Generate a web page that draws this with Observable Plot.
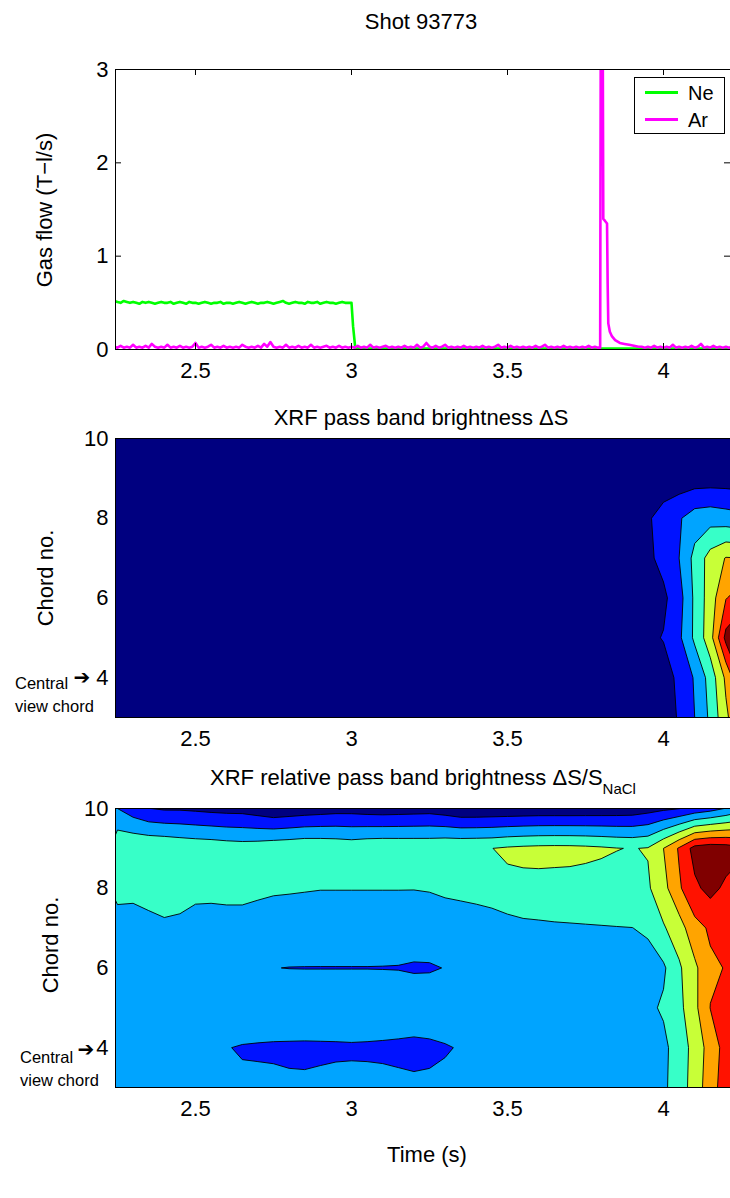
<!DOCTYPE html>
<html><head><meta charset="utf-8">
<script src="https://cdn.jsdelivr.net/npm/d3@7"></script>
<script src="https://cdn.jsdelivr.net/npm/@observablehq/plot@0.6"></script>
<style>
html,body{margin:0;padding:0;background:#fff;overflow:hidden;}
#page{position:relative;width:730px;height:1198px;font-family:"Liberation Sans",Arial,Helvetica,sans-serif;color:#000;overflow:hidden;}
.abs{position:absolute;white-space:nowrap;line-height:1;z-index:5;}
svg{overflow:visible;}
</style></head><body><div id="page"></div>
<script>
// ---------- axes / ticks ----------
const xDomain = [2.2436, 4.2147];
const xTicks = [2.5, 3, 3.5, 4];
const flowDomain = [0, 3];
const flowTicks = [0, 1, 2, 3];
const chordDomain = [3, 10];
const chordTicks = [4, 6, 8, 10];

// ---------- gas flow (top panel) ----------
const neStart = 2.24, arStart = 2.24, flowStep = 0.01;
const neFlow = [0.52,0.51,0.50,0.52,0.51,0.50,0.51,0.50,0.49,0.51, 0.50,0.51,0.50,0.49,0.50,0.51,0.50,0.50,0.51,0.49,
  0.50,0.51,0.50,0.49,0.51,0.50,0.50,0.49,0.50,0.51, 0.50,0.49,0.50,0.50,0.51,0.49,0.50,0.50,0.49,0.50,
  0.51,0.50,0.49,0.50,0.51,0.50,0.49,0.50,0.50,0.51, 0.50,0.49,0.50,0.51,0.52,0.50,0.49,0.50,0.51,0.50,
  0.50,0.49,0.51,0.50,0.50,0.51,0.49,0.50,0.51,0.50, 0.50,0.49,0.50,0.51,0.50,0.50,0.50];
const neOffTime = [3.005, 3.012, 3.05, 3.5, 3.8, 3.85, 4.22];
const neOffFlow = [0.25, 0.02, 0.01, 0.01, 0.01, 0.01, 0.01];
const arBase = [0.03,0.02,0.04,0.02,0.03,0.02,0.05,0.02,0.03,0.02, 0.04,0.02,0.06,0.03,0.02,0.03,0.02,0.05,0.02,0.03,
  0.02,0.04,0.02,0.03,0.02,0.03,0.07,0.02,0.03,0.02, 0.03,0.05,0.02,0.03,0.02,0.04,0.02,0.03,0.02,0.03,
  0.02,0.05,0.03,0.02,0.03,0.02,0.04,0.02,0.06,0.03, 0.08,0.03,0.02,0.03,0.02,0.05,0.02,0.03,0.02,0.04,
  0.02,0.03,0.02,0.05,0.02,0.03,0.02,0.03,0.04,0.02, 0.03,0.02,0.04,0.02,0.03,0.02,0.03,0.02,0.04,0.02,
  0.03,0.02,0.05,0.02,0.03,0.02,0.03,0.04,0.02,0.03, 0.02,0.03,0.02,0.04,0.02,0.03,0.02,0.05,0.02,0.03,
  0.07,0.03,0.02,0.04,0.02,0.03,0.05,0.02,0.03,0.02, 0.03,0.02,0.04,0.02,0.03,0.02,0.03,0.02,0.04,0.02,
  0.03,0.02,0.03,0.05,0.02,0.03,0.02,0.04,0.02,0.03, 0.02,0.03,0.02,0.03,0.02,0.04,0.02,0.03,0.05,0.02,
  0.03,0.02,0.03,0.02,0.04,0.02,0.03,0.02,0.03,0.02, 0.03,0.02,0.04,0.02,0.03,0.02];
const arPulseTime = [3.797,3.799,3.805,3.807,3.812,3.819,3.821,3.823,3.828,3.835,3.845,3.860,3.875,3.890,3.905,3.920];
const arPulseFlow = [0.02,3.6,3.6,1.40,1.38,1.35,0.70,0.28,0.19,0.14,0.10,0.07,0.06,0.05,0.04,0.03];
const arTailStart = 3.93;
const arTail = [0.03,0.02,0.03,0.02,0.04,0.02,0.03,0.02,0.03,0.02, 0.05,0.02,0.03,0.02,0.03,0.02,0.04,0.02,0.03,0.06,
  0.02,0.03,0.02,0.04,0.02,0.03,0.02,0.03,0.02,0.03];

// ---------- contour grids: time samples x chord rows (3..10) ----------
const gridStart = 2.25, gridStep = 0.05, gridCount = 41;
const chords = [3, 4, 5, 6, 7, 8, 9, 10];
const jetColors = ["#000080","#0012FF","#00A4FF","#37FFC8","#C8FF37","#FFA400","#FF1200","#800000"];
const levels = [1, 2, 3, 4, 5, 6, 7];

// XRF pass band brightness dS (arbitrary level units); quiet until 3.85 s
const dSQuiet = [0,0,0,0,0,0,0,0,0,0,0,0,0,0,0,0,0,0,0,0,0,0,0,0,0,0,0,0,0,0,0,0,0];
const dS3  = [...dSQuiet, 0.1,0.25,0.5,1.1,2.0,3.2,4.8,6.0];
const dS4  = [...dSQuiet, 0.1,0.3,0.6,1.2,2.1,3.4,5.2,7.2];
const dS5  = [...dSQuiet, 0.3,0.8,1.05,1.8,3.2,4.6,7.3,8.0];
const dS6  = [...dSQuiet, 0.2,0.4,0.8,1.6,3.2,4.5,5.95,6.5];
const dS7  = [...dSQuiet, 0.3,0.8,1.3,2.0,3.3,4.4,5.05,5.0];
const dS8  = [...dSQuiet, 0.3,0.85,1.5,1.9,2.48,2.6,2.45,2.3];
const dS9  = [...dSQuiet, 0.05,0.1,0.25,0.4,0.48,0.5,0.5,0.45];
const dS10 = [...dSQuiet, 0,0,0.05,0.1,0.15,0.2,0.2,0.2];

// XRF relative pass band brightness dS/S_NaCl (level units)
const rel3  = [2.40,2.40,2.38,2.36,2.34,2.32,2.30,2.20,2.10,2.126, 2.13,2.088,2.083,2.116,2.156,2.152,2.163,2.165,2.141,2.123,
  2.13,2.168,2.25,2.30,2.32,2.34,2.36,2.38,2.40,2.40, 2.40,2.40,2.40,2.50,2.60,2.80,3.57,4.37,5.63,6.43, 6.70];
const rel4  = [2.30,2.25,2.20,2.15,2.10,2.07,2.04,2.02,1.957,1.932, 1.912,1.905,1.898,1.905,1.912,1.925,1.912,1.89,1.859,1.815,
  1.859,1.944,2.05,2.20,2.30,2.40,2.40,2.40,2.40,2.40, 2.40,2.40,2.40,2.50,2.60,2.75,3.53,4.31,5.46,6.36, 6.60];
const rel5  = [2.50,2.50,2.50,2.50,2.50,2.50,2.50,2.50,2.50,2.50, 2.50,2.50,2.50,2.50,2.50,2.50,2.50,2.50,2.50,2.50,
  2.50,2.50,2.50,2.50,2.50,2.50,2.50,2.50,2.50,2.50, 2.50,2.50,2.50,2.60,2.80,3.13,3.71,4.75,6.02,6.50, 6.70];
const rel6  = [2.40,2.40,2.35,2.35,2.30,2.25,2.20,2.15,2.10,2.05, 2.01,1.99,1.985,1.985,1.985,1.985,1.985,1.98,1.97,1.92,
  1.93,2.02,2.15,2.25,2.30,2.35,2.35,2.35,2.35,2.35, 2.35,2.35,2.35,2.45,2.60,2.85,3.85,4.79,5.84,6.04, 6.50];
const rel7  = [2.28,2.18,2.61,2.82,2.72,2.25,2.18,2.31,2.31,2.30, 2.36,2.43,2.46,2.43,2.43,2.43,2.43,2.43,2.43,2.45,
  2.46,2.37,2.36,2.40,2.50,2.57,2.75,2.81,2.87,2.90, 2.93,2.955,2.975,2.99,3.15,3.90,4.55,5.675,6.13,6.60, 6.60];
const rel8  = [3.50,3.50,3.50,3.50,3.50,3.50,3.50,3.50,3.50,3.30, 3.15,3.10,3.06,3.03,3.03,3.03,3.03,3.03,3.03,3.025,
  3.06,3.20,3.30,3.40,3.50,3.80,3.78,3.75,3.70,3.68, 3.64,3.60,3.60,3.72,3.87,4.67,5.86,6.80,7.30,6.80, 6.50];
const rel9  = [3.85,3.95,3.95,3.91,3.78,3.70,3.65,3.55,3.49,3.56, 3.70,3.76,3.86,3.83,3.76,3.66,3.79,3.85,3.83,3.82,
  3.81,3.91,3.93,3.96,3.99,4.13,4.21,4.26,4.28,4.27, 4.22,4.14,4.03,3.96,4.06,5.00,6.11,7.38,7.60,7.50, 7.20];
const rel10 = [2.00,1.45,1.02,0.88,0.88,0.80,0.71,0.65,0.63,0.44, 0.20,0.31,0.41,0.50,0.59,0.60,0.51,0.46,0.50,0.54,
  0.58,0.41,0.17,0.17,0.21,0.22,0.25,0.28,0.28,0.28, 0.30,0.32,0.35,0.40,0.60,0.80,0.97,1.30,1.60,2.05, 2.60];

// ---------- helpers ----------
const FONT = '"Liberation Sans", Arial, Helvetica, sans-serif';
const FS = 22;
const fmt = d3.format("~g");
const page = document.getElementById("page");
function addText(html, x, y, opts = {}) {
  const d = document.createElement("div");
  d.className = "abs";
  d.innerHTML = html;
  d.style.left = x + "px";
  d.style.top = y + "px";
  d.style.fontSize = (opts.size || FS) + "px";
  d.style.transform = opts.transform || "translate(-50%,-50%)";
  if (opts.font) d.style.fontFamily = opts.font;
  page.appendChild(d);
  return d;
}
function place(node, y) {
  node.style.position = "absolute";
  node.style.left = "0px";
  node.style.top = y + "px";
  node.style.background = "transparent";
  page.appendChild(node);
}

// ---------- top panel ----------
const neData = neFlow.map((v, i) => ({t: neStart + i * flowStep, v}))
  .concat(neOffTime.map((t, i) => ({t, v: neOffFlow[i]})));
const arData = arBase.map((v, i) => ({t: arStart + i * flowStep, v}))
  .concat(arPulseTime.map((t, i) => ({t, v: arPulseFlow[i]})))
  .concat(arTail.map((v, i) => ({t: arTailStart + i * flowStep, v})));

const topH = 350, topMT = 29, topMB = 41;
const topInnerH = topH - topMT - topMB, innerW = 730 - 115;
const flowPlot = Plot.plot({
  width: 730, height: topH, marginLeft: 115, marginRight: 0, marginTop: topMT, marginBottom: topMB,
  style: {fontFamily: FONT, fontSize: FS + "px", background: "transparent", overflow: "visible"},
  x: {domain: xDomain},
  y: {domain: flowDomain},
  marks: [
    Plot.line(neData, {x: "t", y: "v", stroke: "#00FF00", strokeWidth: 2.6, clip: true}),
    Plot.line(arData, {x: "t", y: "v", stroke: "#FF00FF", strokeWidth: 2.6, clip: true}),
    Plot.ruleY(flowDomain, {stroke: "black", strokeWidth: 1}),
    Plot.ruleX([xDomain[0]], {stroke: "black", strokeWidth: 1}),
    Plot.tickX(xTicks, {insetBottom: topInnerH - 6, stroke: "black"}),
    Plot.tickX(xTicks, {insetTop: topInnerH - 6, stroke: "black"}),
    Plot.tickY(flowTicks, {insetRight: innerW - 6, stroke: "black"}),
    Plot.tickY(flowTicks, {insetLeft: innerW - 6, stroke: "black"}),
    Plot.axisX(xTicks, {tickSize: 0, tickPadding: 13, label: null, fontSize: FS, tickFormat: fmt}),
    Plot.axisY(flowTicks, {tickSize: 0, tickPadding: 7, label: null, fontSize: FS, tickFormat: fmt})
  ]
});
place(flowPlot, 40);

// ---------- contour panels ----------
function flatten(rows) { const out = []; for (const r of rows) out.push(...r); return out; }
function contourPanel(rows) {
  const values = flatten(rows);
  const H = 330, MT = 8, MB = 43;
  return Plot.plot({
    width: 730, height: H, marginLeft: 115, marginRight: 0, marginTop: MT, marginBottom: MB,
    style: {fontFamily: FONT, fontSize: FS + "px", background: "transparent", overflow: "visible"},
    x: {domain: xDomain},
    y: {domain: chordDomain},
    color: {type: "threshold", domain: levels, range: jetColors},
    marks: [
      Plot.contour(values, {
        width: gridCount, height: chords.length,
        x1: gridStart - gridStep / 2, x2: gridStart + (gridCount - 0.5) * gridStep,
        y1: chords[0] - 0.5, y2: chords[chords.length - 1] + 0.5,
        fill: Plot.identity, thresholds: [0, ...levels],
        stroke: "black", strokeWidth: 0.9, clip: true
      }),
      Plot.ruleY(chordDomain, {stroke: "black", strokeWidth: 1}),
      Plot.ruleX([xDomain[0]], {stroke: "black", strokeWidth: 1}),
      Plot.axisX(xTicks, {tickSize: 0, tickPadding: 13, label: null, fontSize: FS, tickFormat: fmt}),
      Plot.axisY(chordTicks, {tickSize: 0, tickPadding: 7, label: null, fontSize: FS, tickFormat: fmt})
    ]
  });
}
place(contourPanel([dS3, dS4, dS5, dS6, dS7, dS8, dS9, dS10]), 430);
place(contourPanel([rel3, rel4, rel5, rel6, rel7, rel8, rel9, rel10]), 800);

// ---------- text ----------
addText("Shot 93773", 421, 22);
addText("XRF pass band brightness &Delta;S", 421, 418);
addText('XRF relative pass band brightness &Delta;S/S<span style="font-size:15px;position:relative;top:9px">NaCl</span>', 423, 778);
addText("Time (s)", 427, 1155);
addText("Gas flow (T&minus;l/s)", 45, 210, {transform: "translate(-50%,-50%) rotate(-90deg)"});
addText("Chord no.", 46, 578, {transform: "translate(-50%,-50%) rotate(-90deg)"});
addText("Chord no.", 51, 945, {transform: "translate(-50%,-50%) rotate(-90deg)"});
addText("Central", 15, 683, {size: 16.5, transform: "translate(0,-50%)"});
addText("view chord", 15, 706, {size: 16.5, transform: "translate(0,-50%)"});
addText("&#x2794;", 82, 677, {size: 20, font: '"DejaVu Sans", sans-serif'});
addText("Central", 20, 1057, {size: 16.5, transform: "translate(0,-50%)"});
addText("view chord", 20, 1080, {size: 16.5, transform: "translate(0,-50%)"});
addText("&#x2794;", 86, 1049, {size: 20, font: '"DejaVu Sans", sans-serif'});

// ---------- legend ----------
const leg = document.createElement("div");
leg.className = "abs";
leg.style.left = "634px"; leg.style.top = "77px"; leg.style.transform = "none";
leg.innerHTML = `<svg width="91" height="57" style="display:block">
  <rect x="0.5" y="0.5" width="90" height="56" fill="white" stroke="black" stroke-width="1"/>
  <line x1="11" x2="44" y1="15.5" y2="15.5" stroke="#00FF00" stroke-width="3"/>
  <text x="54" y="15.5" dy="0.35em" font-size="20" font-family='${FONT}'>Ne</text>
  <line x1="11" x2="44" y1="42.5" y2="42.5" stroke="#FF00FF" stroke-width="3"/>
  <text x="54" y="42.5" dy="0.35em" font-size="20" font-family='${FONT}'>Ar</text>
</svg>`;
page.appendChild(leg);
</script></body></html>
